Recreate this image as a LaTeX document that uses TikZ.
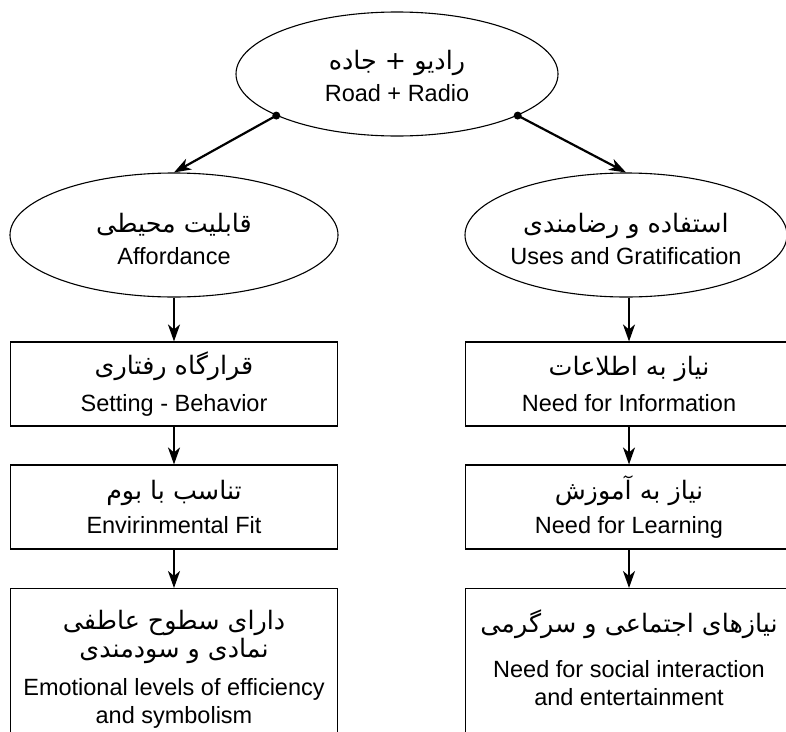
\documentclass[tikz,border=0pt]{standalone}
\usepackage{fontspec}
\setmainfont{Liberation Sans}
\newfontfamily\persianfont[Script=Arabic,Scale=1.08]{DejaVu Sans}
\TeXXeTstate=1
\usetikzlibrary{arrows.meta,shapes.geometric}
\newcommand{\fatext}[1]{{\persianfont\beginR #1\endR}}

\begin{document}
\begin{tikzpicture}[x=1pt,y=-1pt,
    font=\fontsize{23.5}{28.5}\selectfont,
    oval/.style ={ellipse, draw, line width=1.1pt, inner sep=0pt},
    stage/.style ={rectangle, draw, line width=1.1pt, minimum width=327pt,
      minimum height=84pt, inner sep=0pt, align=center},
    caption/.style ={align=center, inner sep=0pt},
    flow/.style ={-{Stealth[length=17pt,width=12pt,inset=5pt]}, line width=2.2pt}]
   \useasboundingbox (0,0) rectangle (786,731);
   \clip (0,0) rectangle (786,731);

   \node[oval, minimum width=322pt, minimum height=124pt] (road)  at (397,74)  {};
   \node[caption] (roadtext) at (397,76) {\fatext{رادیو + جاده}\\[4pt] Road + Radio};
   \node[oval, minimum width=328pt, minimum height=124pt] (afford)  at (174,235)  {};
   \node[caption] (affordtext) at (174,239) {\fatext{قابلیت محیطی}\\[3pt] Affordance};
   \node[oval, minimum width=322pt, minimum height=124pt] (uses)  at (626,235)  {};
   \node[caption] (usestext) at (626,239) {\fatext{استفاده و رضامندی}\\[3pt] Uses and Gratification};

   \node[stage] (setting)  at (174,384)  {\fatext{قرارگاه رفتاری}\\[8pt] Setting - Behavior};
   \node[stage] (fit)  at (174,507)  {\fatext{تناسب با بوم}\\[6pt] Envirinmental Fit};
   \node[stage, anchor=north, minimum height=200pt] (emotion)  at (174,588)  {};
   \node[caption, anchor=north] (emotiontext) at (174,610)
     {\fatext{دارای سطوح عاطفی}\\ \fatext{نمادی و سودمندی}\\[9pt]
      Emotional levels of efficiency\\ and symbolism};

   \node[stage] (info)  at (629,384)  {\fatext{نیاز به اطلاعات}\\[8pt] Need for Information};
   \node[stage] (learn)  at (629,507)  {\fatext{نیاز به آموزش}\\[6pt] Need for Learning};
   \node[stage, anchor=north, minimum height=200pt] (social)  at (629,588)  {};
   \node[caption, anchor=north] (socialtext) at (629,610)
     {\fatext{نیازهای اجتماعی و سرگرمی}\\[16pt]
      Need for social interaction\\ and entertainment};

   \draw[flow] (road.199) to (afford.north);
   \draw[flow] (road.341) to (uses.north);
   \fill (road.199) circle (4pt);
   \fill (road.341) circle (4pt);
   \draw[flow] (afford.south) to (setting.north);
   \draw[flow] (setting.south) to (fit.north);
   \draw[flow] (fit.south) to (emotion.north);
   \draw[flow] (uses.south -| info.north) to (info.north);
   \draw[flow] (info.south) to (learn.north);
   \draw[flow] (learn.south) to (social.north);
 \end{tikzpicture}
\end{document}
